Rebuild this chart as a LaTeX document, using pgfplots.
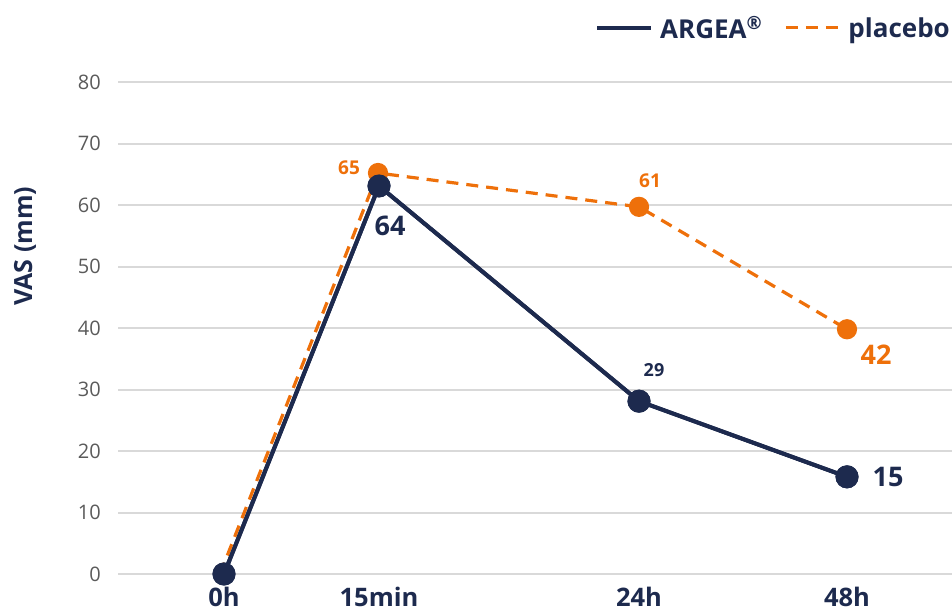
\documentclass[border=0pt]{standalone}
\usepackage{fontspec}
\setmainfont{Open Sans}
\usepackage{pgfplots}
\pgfplotsset{compat=1.18}
\definecolor{navy}{HTML}{1D2A4E}
\definecolor{orng}{HTML}{EE700A}
\definecolor{gridc}{HTML}{D9D9D9}
\definecolor{tickc}{HTML}{5A5A5A}
\begin{document}
\begin{tikzpicture}
\path[use as bounding box] (0,0) rectangle (952pt,611pt);
\begin{axis}[
  at={(118pt,37pt)}, anchor=south west,
  scale only axis, width=834pt, height=492pt,
  xmin=118, xmax=952, ymin=0, ymax=80,
  clip=false,
  axis line style={draw=none},
  major tick length=0pt,
  ytick={0,10,...,80},
  ymajorgrids,
  major grid style={color=gridc, line width=2pt},
  /pgf/number format/assume math mode=true,
  yticklabel style={anchor=east, inner sep=0pt, xshift=-17pt, font=\fontsize{20}{24}\selectfont, text=tickc},
  xtick={224,379,639,847},
  xticklabels={0h,15min,24h,48h},
  xticklabel style={anchor=north, inner sep=0pt, yshift=-13pt, font=\fontsize{25.5}{30}\selectfont\bfseries, text=navy},
  ylabel={VAS (mm)},
  every axis y label/.style={at={(axis cs:25,53.3)}, rotate=90, anchor=center, font=\fontsize{25}{30}\selectfont\bfseries, text=navy},
  legend style={at={(axis cs:957,88.8)}, anchor=east, draw=none, fill=none, inner sep=0pt,
    legend columns=2, font=\fontsize{26}{30}\selectfont\bfseries, text=navy,
    /tikz/every even column/.append style={column sep=15pt},
    nodes={inner xsep=7pt, inner ysep=0pt}},
  legend image code/.code={\draw[#1, mark=none] (0pt,0pt) -- (54pt,0pt);},
]
\addplot[navy, line width=4pt, mark=*, mark size=9.5pt, mark options={solid}]
  coordinates {(224,0) (379,63.1) (639,28.1) (847,15.8)};
\addlegendentry{ARGEA\textsuperscript{®}}
\addplot[orng, line width=3.2pt, dash pattern=on 12pt off 8pt, mark=*, mark size=8.5pt, mark options={solid}, mark indices={2,3,4}]
  coordinates {(220,0) (378,65.2) (639,59.7) (847,39.8)};
\addlegendentry{placebo}
\addplot[navy, line width=4pt, mark=*, mark size=9.5pt, mark options={solid}, forget plot]
  coordinates {(224,0) (379,63.1) (639,28.1) (847,15.8)};
\node[text=orng, font=\fontsize{19}{22}\selectfont\bfseries] at (axis cs:349,66.0) {65};
\node[text=navy, font=\fontsize{27}{30}\selectfont\bfseries] at (axis cs:390,56.6) {64};
\node[text=orng, font=\fontsize{19}{22}\selectfont\bfseries] at (axis cs:650,63.9) {61};
\node[text=navy, font=\fontsize{18}{22}\selectfont\bfseries] at (axis cs:654,33.2) {29};
\node[text=orng, font=\fontsize{27}{30}\selectfont\bfseries] at (axis cs:876,35.6) {42};
\node[text=navy, font=\fontsize{27}{30}\selectfont\bfseries] at (axis cs:888,15.8) {15};
\end{axis}
\end{tikzpicture}
\end{document}
